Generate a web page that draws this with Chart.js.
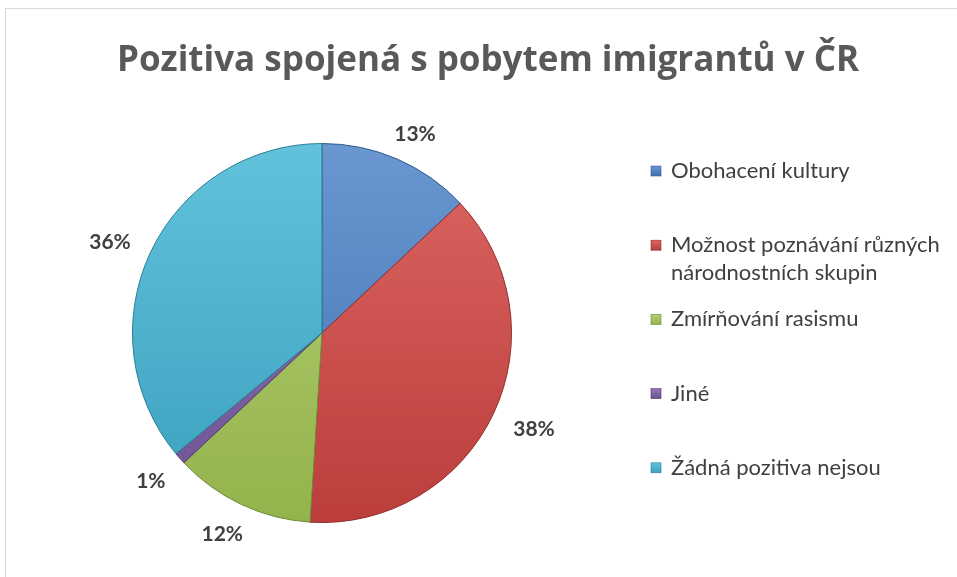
<!DOCTYPE html>
<html>
<head>
<meta charset="utf-8">
<script src="https://cdn.jsdelivr.net/npm/chart.js@4/dist/chart.umd.min.js"></script>
<style>
  body { margin: 0; background: #fff; overflow: hidden; }
  #wrap { position: absolute; left: 0; top: 0; width: 957px; height: 577px; }
  #frame { position: absolute; left: 5px; top: 8px; width: 1000px; height: 1000px; border: 1px solid #d9d9d9; pointer-events: none; }
</style>
</head>
<body>
<div id="wrap"><canvas id="pieChart" width="957" height="577"></canvas></div>
<div id="frame"></div>
<script>
// data of the chart
const categories = [
  'Obohacení kultury',
  'Možnost poznávání různých národnostních skupin',
  'Zmírňování rasismu',
  'Jiné',
  'Žádná pozitiva nejsou'
];
const values = [13, 38, 12, 1, 36];
const chartTitle = 'Pozitiva spojená s pobytem imigrantů v ČR';

// colours: light (top), dark (bottom), edge
const lightColors = ['#6a97d0', '#dc6662', '#b4d175', '#9279b6', '#62c2dc'];
const darkColors = ['#3f71b2', '#bb3e3b', '#93b34c', '#6d5191', '#3aa0bd'];
const edgeColors = ['#2f5a90', '#8f2d2b', '#6f8a37', '#503b6d', '#2b7d94'];

// wrapped legend lines
const legendLines = [
  ['Obohacení kultury'],
  ['Možnost poznávání různých', 'národnostních skupin'],
  ['Zmírňování rasismu'],
  ['Jiné'],
  ['Žádná pozitiva nejsou']
];

function sliceFill(ctx) {
  const chart = ctx.chart;
  const area = chart.chartArea;
  if (!area) return darkColors[ctx.dataIndex];
  const g = chart.ctx.createLinearGradient(0, area.top, 0, area.bottom);
  g.addColorStop(0, lightColors[ctx.dataIndex]);
  g.addColorStop(1, darkColors[ctx.dataIndex]);
  return g;
}

const titlePlugin = {
  id: 'titlePlugin',
  afterDraw(chart) {
    const c = chart.ctx;
    c.save();
    c.font = 'bold 35px "Open Sans"';
    c.fillStyle = '#595959';
    c.textAlign = 'center';
    c.textBaseline = 'middle';
    c.fillText(chartTitle, 488, 61);
    c.restore();
  }
};

// percent labels outside the slices, pushed out by half the text box
const labelPlugin = {
  id: 'labelPlugin',
  afterDraw(chart) {
    const c = chart.ctx;
    const total = values.reduce((a, b) => a + b, 0);
    c.save();
    c.font = 'bold 21px Lato';
    c.fillStyle = '#404040';
    c.textAlign = 'center';
    c.textBaseline = 'middle';
    chart.getDatasetMeta(0).data.forEach((arc, i) => {
      const txt = Math.round(values[i] / total * 100) + '%';
      const w = c.measureText(txt).width;
      const mid = (arc.startAngle + arc.endAngle) / 2;
      const r = arc.outerRadius + 24;
      const x = arc.x + Math.cos(mid) * (r + w / 2);
      const y = arc.y + Math.sin(mid) * (r + 6) + 3;
      c.fillText(txt, x, y);
    });
    c.restore();
  }
};

const legendPlugin = {
  id: 'legendPlugin',
  afterDraw(chart) {
    const c = chart.ctx;
    c.save();
    c.font = '22px Lato';
    c.textBaseline = 'middle';
    legendLines.forEach((lines, i) => {
      const y = 171 + i * 74.2;
      const g = c.createLinearGradient(0, y - 5, 0, y + 5);
      g.addColorStop(0, lightColors[i]);
      g.addColorStop(1, darkColors[i]);
      c.fillStyle = g;
      c.fillRect(651, y - 5, 10, 10);
      c.strokeStyle = edgeColors[i];
      c.lineWidth = 0.6;
      c.strokeRect(651, y - 5, 10, 10);
      c.fillStyle = '#404040';
      lines.forEach((t, k) => c.fillText(t, 671, y + k * 28));
    });
    c.restore();
  }
};

const data = {
  labels: categories,
  datasets: [{
    data: values,
    backgroundColor: sliceFill,
    borderColor: edgeColors,
    borderWidth: 1
  }]
};

const config = {
  type: 'pie',
  data: data,
  options: {
    responsive: false,
    animation: false,
    layout: { padding: { left: 132, right: 445, top: 143, bottom: 54 } },
    plugins: {
      legend: { display: false },
      title: { display: false },
      tooltip: { enabled: false }
    }
  },
  plugins: [titlePlugin, labelPlugin, legendPlugin]
};

const pieChart = new Chart(document.getElementById('pieChart'), config);
</script>
</body>
</html>
